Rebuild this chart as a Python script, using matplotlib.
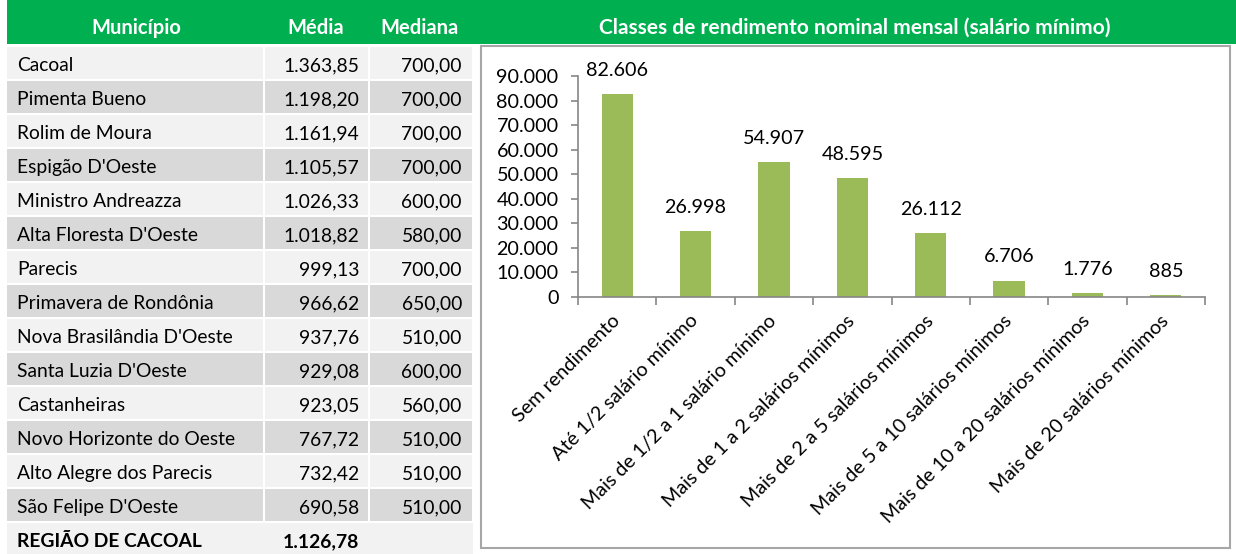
import matplotlib
matplotlib.use("Agg")
import matplotlib.pyplot as plt
from matplotlib.patches import Rectangle

plt.rcParams['font.family'] = ['Lato', 'DejaVu Sans']

# ---------------- data ----------------
municipios = ["Cacoal", "Pimenta Bueno", "Rolim de Moura", "Espigão D'Oeste",
              "Ministro Andreazza", "Alta Floresta D'Oeste", "Parecis",
              "Primavera de Rondônia", "Nova Brasilândia D'Oeste",
              "Santa Luzia D'Oeste", "Castanheiras", "Novo Horizonte do Oeste",
              "Alto Alegre dos Parecis", "São Felipe D'Oeste"]
media = [1363.85, 1198.20, 1161.94, 1105.57, 1026.33, 1018.82, 999.13,
         966.62, 937.76, 929.08, 923.05, 767.72, 732.42, 690.58]
mediana = [700.00, 700.00, 700.00, 700.00, 600.00, 580.00, 700.00,
           650.00, 510.00, 600.00, 560.00, 510.00, 510.00, 510.00]
regiao_nome = "REGIÃO DE CACOAL"
regiao_media = 1126.78
table_headers = ["Município", "Média", "Mediana"]

chart_title = "Classes de rendimento nominal mensal (salário mínimo)"
classes = ["Sem rendimento", "Até 1/2 salário mínimo", "Mais de 1/2 a 1 salário mínimo",
           "Mais de 1 a 2 salários mínimos", "Mais de 2 a 5 salários mínimos",
           "Mais de 5 a 10 salários mínimos", "Mais de 10 a 20 salários mínimos",
           "Mais de 20 salários mínimos"]
pessoas = [82606, 26998, 54907, 48595, 26112, 6706, 1776, 885]
y_ticks = [0, 10000, 20000, 30000, 40000, 50000, 60000, 70000, 80000, 90000]


def br(v, dec=2):
    s = f"{v:,.{dec}f}"
    return s.replace(",", "X").replace(".", ",").replace("X", ".")


GREEN = "#00b050"
LIGHT = "#f2f2f2"
DARK = "#d9d9d9"
BAR = "#9bbb59"
AX = "#868686"
FS = 13.9
HFS = 15.0

W, H = 1236, 554
fig = plt.figure(figsize=(W / 100, H / 100), dpi=100)
bg = fig.add_axes([0, 0, 1, 1])
bg.set_xlim(0, W)
bg.set_ylim(H, 0)
bg.axis('off')

# headers
HY = 25.5
bg.add_patch(Rectangle((7, 0), W - 7, 44, color=GREEN, lw=0))
bg.text(136, HY, table_headers[0], color='white', weight='bold', fontsize=HFS - 0.5, ha='center', va='center_baseline')
bg.text(316, HY, table_headers[1], color='white', weight='bold', fontsize=HFS - 0.5, ha='center', va='center_baseline')
bg.text(420, HY, table_headers[2], color='white', weight='bold', fontsize=HFS - 0.5, ha='center', va='center_baseline')
bg.text(855, HY, chart_title, color='white', weight='bold', fontsize=HFS, ha='center', va='center_baseline')

# table rows
cols = [(7, 263), (265, 368), (370, 472)]
for i, (nome, m, md) in enumerate(zip(municipios, media, mediana)):
    yc = 63 + 34 * i
    col = LIGHT if i % 2 == 0 else DARK
    for (x0, x1) in cols:
        bg.add_patch(Rectangle((x0, yc - 16), x1 - x0, 32, color=col, lw=0))
    ty = yc + 1
    bg.text(17, ty, nome, fontsize=FS, ha='left', va='center_baseline', color='black')
    bg.text(359, ty, br(m), fontsize=FS, ha='right', va='center_baseline', color='black')
    bg.text(462, ty, br(md), fontsize=FS, ha='right', va='center_baseline', color='black')

yc = 63 + 34 * len(municipios)
bg.add_patch(Rectangle((7, yc - 16), 466, 32, color=LIGHT, lw=0))
bg.text(17, yc + 1, regiao_nome, fontsize=FS, weight='bold', ha='left', va='center_baseline', color='black')
bg.text(359, yc + 1, br(regiao_media), fontsize=FS, weight='bold', ha='right', va='center_baseline', color='black')

# chart frame
bg.add_patch(Rectangle((481, 46), 1230 - 481, 548 - 46, fill=False, ec='#a6a6a6', lw=1.5))

# chart axes
x0, x1, ytop, ybot = 578, 1205, 76, 297
ax = fig.add_axes([x0 / W, (H - ybot) / H, (x1 - x0) / W, (ybot - ytop) / H])
ax.patch.set_alpha(0)
xs = list(range(len(pessoas)))
bars = ax.bar(xs, pessoas, width=0.4, color=BAR)
ax.set_xlim(-0.5, len(pessoas) - 0.5)
ax.set_ylim(0, 90000)
ax.set_yticks(y_ticks)
ax.set_yticklabels([br(v, 0) for v in y_ticks], fontsize=14.2)
ax.set_xticks([i - 0.5 for i in range(len(pessoas) + 1)])
ax.set_xticklabels([])
ax.set_xticks(xs, minor=True)
ax.set_xticklabels(classes, minor=True, rotation=45, ha='right', va='center',
                   rotation_mode='anchor', fontsize=14.2)
ax.tick_params(axis='x', which='minor', length=0, pad=15)
ax.tick_params(axis='x', which='major', length=6, color=AX, width=1.2, direction='out')
ax.tick_params(axis='y', length=5, color=AX, width=1.2, direction='out', pad=9)
for s in ['top', 'right']:
    ax.spines[s].set_visible(False)
for s in ['left', 'bottom']:
    ax.spines[s].set_color(AX)
    ax.spines[s].set_linewidth(1.2)

for b, v in zip(bars, pessoas):
    ax.annotate(br(v, 0), (b.get_x() + b.get_width() / 2, v), xytext=(0, 13),
                textcoords='offset points', ha='center', va='baseline', fontsize=14.2)

fig.savefig("out.png", dpi=100)
